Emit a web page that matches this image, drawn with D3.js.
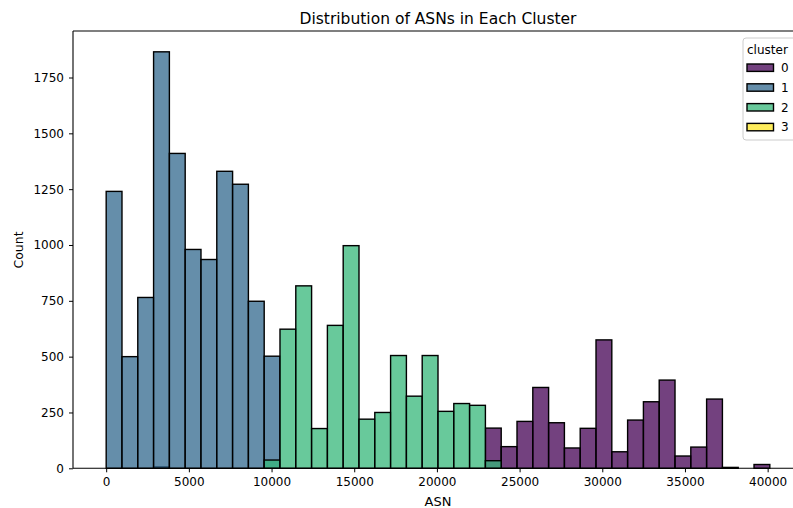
<!DOCTYPE html>
<html>
<head>
<meta charset="utf-8">
<script src="https://cdn.jsdelivr.net/npm/d3@7"></script>
<style>
  html, body { margin: 0; padding: 0; background: #fff; }
  svg { display: block; font-family: "DejaVu Sans", sans-serif; }
</style>
</head>
<body>
<svg id="chart" width="793" height="508"></svg>
<script>
// Histogram of ASNs, one layered series per cluster
const binStart = 0;
const binWidth = 955.5;
const clusters = ["0", "1", "2", "3"];
const clusterColors = ["#440154", "#31688e", "#35b779", "#fde725"];

// counts per bin (42 bins), one array per cluster
const cluster0Counts = [0, 0, 0, 6, 0, 0, 0, 0, 0, 0, 0, 0, 0, 0, 0, 0, 0, 0, 0, 0, 0, 0, 0, 0,
  180, 97, 210, 362, 204, 91, 179, 575, 74, 216, 298, 395, 55, 95, 310, 4, 0, 17];
const cluster1Counts = [1240, 500, 765, 1865, 1410, 980, 935, 1330, 1272, 748, 502, 0, 0, 0,
  0, 0, 0, 0, 0, 0, 0, 0, 0, 0, 0, 0, 0, 0, 0, 0, 0, 0, 0, 0, 0, 0, 0, 0, 0, 0, 0, 0];
const cluster2Counts = [0, 0, 0, 0, 0, 0, 0, 0, 0, 0, 37, 623, 817, 178, 640, 997, 220, 250,
  505, 323, 505, 255, 290, 282, 34, 0, 0, 0, 0, 0, 0, 0, 0, 0, 0, 0, 0, 0, 0, 0, 0, 0];
const cluster3Counts = [0, 0, 0, 0, 0, 0, 0, 0, 0, 0, 0, 0, 0, 0, 0, 0, 0, 0, 0, 0, 0, 0, 0, 0,
  0, 0, 0, 0, 0, 0, 0, 0, 0, 0, 0, 0, 0, 0, 0, 0, 0, 0];

const xTicks = [0, 5000, 10000, 15000, 20000, 25000, 30000, 35000, 40000];
const yTicks = [0, 250, 500, 750, 1000, 1250, 1500, 1750];

const seriesCounts = [cluster0Counts, cluster1Counts, cluster2Counts, cluster3Counts];
const nBins = cluster0Counts.length;

const svg = d3.select("#chart");
const plot = { left: 73, right: 803, top: 31, bottom: 468.3 };

// axis ranges with matplotlib-style 5% padding
const xMin = binStart, xMax = binStart + nBins * binWidth;
const xPad = (xMax - xMin) * 0.05;
const yMaxData = d3.max(seriesCounts, s => d3.max(s));
const x = d3.scaleLinear().domain([xMin - xPad, xMax + xPad]).range([plot.left, plot.right]);
const y = d3.scaleLinear().domain([0, yMaxData * 1.05]).range([plot.bottom, plot.top]);

// bars: clusters layered in order, translucent fills with black edges
const barsG = svg.append("g");
seriesCounts.forEach((counts, ci) => {
  const bins = counts.map((c, i) => ({ x0: binStart + i * binWidth, x1: binStart + (i + 1) * binWidth, c }))
    .filter(d => d.c > 0);
  barsG.append("g").selectAll("rect").data(bins).join("rect")
    .attr("x", d => x(d.x0))
    .attr("y", d => y(d.c))
    .attr("width", d => x(d.x1) - x(d.x0))
    .attr("height", d => y(0) - y(d.c))
    .attr("fill", clusterColors[ci])
    .attr("fill-opacity", 0.75)
    .attr("stroke", "#000")
    .attr("stroke-width", 1.4);
});

// axes
const xAxis = d3.axisBottom(x).tickValues(xTicks).tickFormat(d3.format("d")).tickSizeOuter(0).tickSize(4).tickPadding(5);
const yAxis = d3.axisLeft(y).tickValues(yTicks).tickFormat(d3.format("d")).tickSizeOuter(0).tickSize(4).tickPadding(5);

const gx = svg.append("g").attr("transform", `translate(0,${plot.bottom})`).call(xAxis);
const gy = svg.append("g").attr("transform", `translate(${plot.left},0)`).call(yAxis);
[gx, gy].forEach(g => {
  g.select(".domain").remove();
  g.selectAll(".tick line").attr("stroke", "#000").attr("stroke-width", 1);
  g.selectAll(".tick text").attr("fill", "#000").style("font-size", "12px")
    .style("font-family", "'DejaVu Sans', sans-serif");
});

// spines
const spines = svg.append("g").attr("stroke", "#000").attr("stroke-width", 1.1).attr("fill", "none");
spines.append("line").attr("x1", plot.left).attr("x2", plot.right).attr("y1", plot.top).attr("y2", plot.top);
spines.append("line").attr("x1", plot.left).attr("x2", plot.right).attr("y1", plot.bottom).attr("y2", plot.bottom);
spines.append("line").attr("x1", plot.left).attr("x2", plot.left).attr("y1", plot.top).attr("y2", plot.bottom);
spines.append("line").attr("x1", plot.right).attr("x2", plot.right).attr("y1", plot.top).attr("y2", plot.bottom);

// title and axis labels
svg.append("text").attr("x", (plot.left + plot.right) / 2).attr("y", 23.5)
  .attr("text-anchor", "middle").style("font-size", "15.5px").text("Distribution of ASNs in Each Cluster");
svg.append("text").attr("x", (plot.left + plot.right) / 2).attr("y", 506)
  .attr("text-anchor", "middle").style("font-size", "13px").text("ASN");
svg.append("text").attr("transform", "translate(23,250) rotate(-90)")
  .attr("text-anchor", "middle").style("font-size", "12.5px").text("Count");

// legend
const lg = svg.append("g").attr("transform", "translate(743,38)");
lg.append("rect").attr("x", 0).attr("y", 0).attr("width", 80).attr("height", 102)
  .attr("rx", 3).attr("fill", "#fff").attr("fill-opacity", 0.8).attr("stroke", "#ccc").attr("stroke-width", 1);
lg.append("text").attr("x", 4).attr("y", 15.5).style("font-size", "12px").text("cluster");
clusters.forEach((c, i) => {
  const cy = 29.7 + i * 19.8;
  lg.append("rect").attr("x", 4).attr("y", cy - 3.7).attr("width", 26.5).attr("height", 7.4)
    .attr("fill", clusterColors[i]).attr("fill-opacity", 0.75).attr("stroke", "#000").attr("stroke-width", 1.4);
  lg.append("text").attr("x", 38).attr("y", cy + 4.3).style("font-size", "12px").text(c);
});
</script>
</body>
</html>
